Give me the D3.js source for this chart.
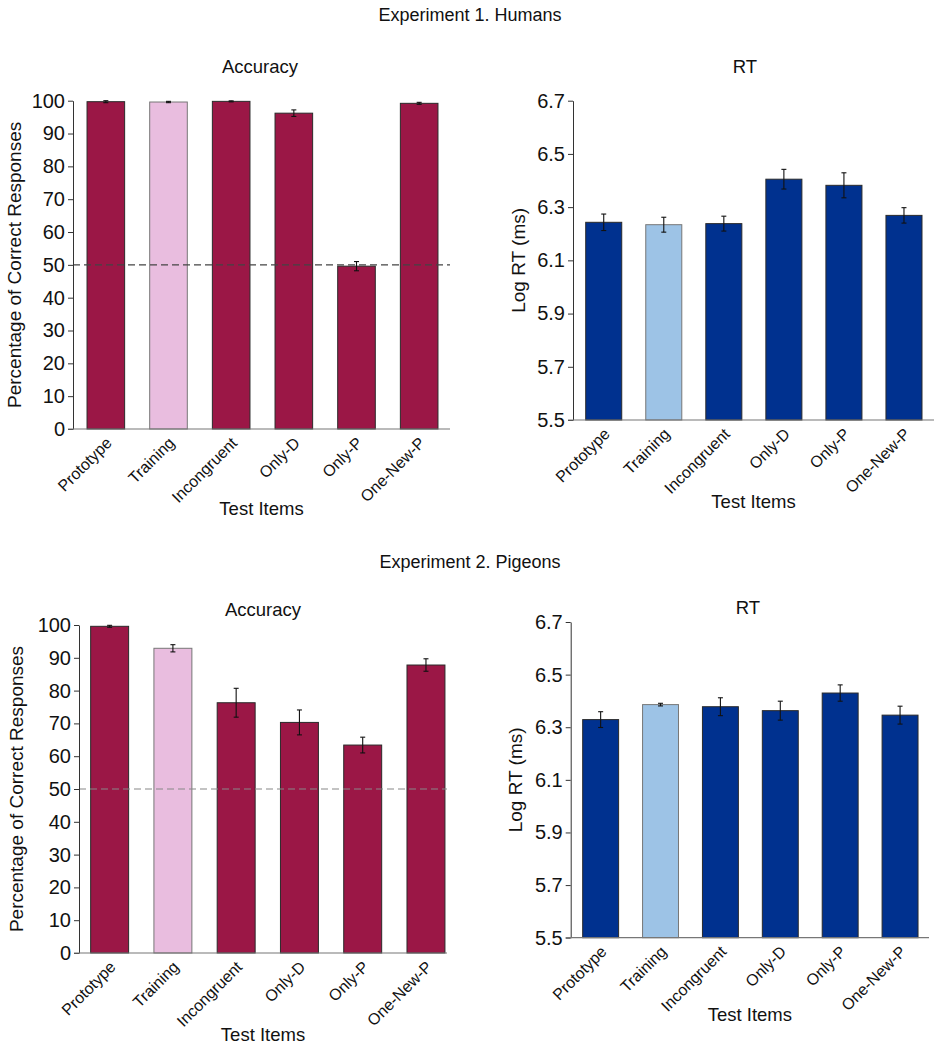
<!DOCTYPE html>
<html>
<head>
<meta charset="utf-8">
<script src="https://cdn.jsdelivr.net/npm/d3@7"></script>
<style>
  html, body { margin: 0; padding: 0; background: #fff; }
  svg { display: block; font-family: "Liberation Sans", Arial, sans-serif; }
</style>
</head>
<body>
<svg id="chart" width="939" height="1050"></svg>
<script>
// ---------------- DATA ----------------
const categories = ["Prototype", "Training", "Incongruent", "Only-D", "Only-P", "One-New-P"];
const highlighted = "Training";

const exp1AccMean = [99.7, 99.6, 99.8, 96.2, 49.6, 99.2];
const exp1AccErr  = [0.3, 0.2, 0.15, 1.0, 1.4, 0.3];
const exp1RtMean  = [6.243, 6.234, 6.238, 6.405, 6.382, 6.269];
const exp1RtErr   = [0.031, 0.028, 0.028, 0.037, 0.047, 0.029];

const exp2AccMean = [99.6, 92.9, 76.3, 70.3, 63.4, 87.8];
const exp2AccErr  = [0.3, 1.1, 4.4, 3.8, 2.4, 1.9];
const exp2RtMean  = [6.329, 6.386, 6.378, 6.363, 6.430, 6.346];
const exp2RtErr   = [0.030, 0.005, 0.034, 0.036, 0.031, 0.034];

const accTicks = [0, 10, 20, 30, 40, 50, 60, 70, 80, 90, 100];
const rtTicks  = [5.5, 5.7, 5.9, 6.1, 6.3, 6.5, 6.7];
const chanceLevel = 50;

const experimentTitles = ["Experiment 1. Humans", "Experiment 2. Pigeons"];
const panelTitles = ["Accuracy", "RT"];
const yLabels = ["Percentage of Correct Responses", "Log RT (ms)"];
const xLabel = "Test Items";

// ---------------- STYLE ----------------
const accColor = "#9B1746", accLight = "#E9BDDF";
const rtColor = "#00318F", rtLight = "#9DC3E6";

const svg = d3.select("#chart");

// experiment titles
svg.append("text").attr("x", 470).attr("y", 21).attr("text-anchor", "middle")
  .attr("font-size", 18).attr("fill", "#111").text(experimentTitles[0]);
svg.append("text").attr("x", 470).attr("y", 568).attr("text-anchor", "middle")
  .attr("font-size", 18).attr("fill", "#111").text(experimentTitles[1]);

function panel(cfg) {
  const rows = categories.map((c, i) => ({ cat: c, mean: cfg.mean[i], err: cfg.err[i] }));
  const x = d3.scaleBand().domain(categories).range(cfg.xr).paddingInner(0.4).paddingOuter(0.2);
  const y = d3.scaleLinear().domain(cfg.domain).range(cfg.yr);
  const g = svg.append("g");

  // bars
  g.selectAll("rect.bar").data(rows).enter().append("rect")
    .attr("x", d => x(d.cat))
    .attr("width", x.bandwidth())
    .attr("y", d => y(d.mean))
    .attr("height", d => y(cfg.domain[0]) - y(d.mean))
    .attr("fill", d => d.cat === highlighted ? cfg.light : cfg.color)
    .attr("stroke", d => d.cat === highlighted ? "#777" : "#2a2a2a")
    .attr("stroke-width", 1);

  // chance line
  if (cfg.chance !== undefined) {
    g.append("line")
      .attr("x1", cfg.axisX).attr("x2", cfg.xEnd)
      .attr("y1", y(cfg.chance)).attr("y2", y(cfg.chance))
      .attr("stroke", cfg.chanceColor).attr("stroke-width", 1.2)
      .attr("stroke-dasharray", "7,4");
  }

  // error bars
  const eb = g.selectAll("g.err").data(rows).enter().append("g")
    .attr("stroke", "#111").attr("stroke-width", 1.1);
  eb.append("line")
    .attr("x1", d => x(d.cat) + x.bandwidth() / 2).attr("x2", d => x(d.cat) + x.bandwidth() / 2)
    .attr("y1", d => y(d.mean - d.err)).attr("y2", d => y(d.mean + d.err));
  eb.append("line")
    .attr("x1", d => x(d.cat) + x.bandwidth() / 2 - 2.5).attr("x2", d => x(d.cat) + x.bandwidth() / 2 + 2.5)
    .attr("y1", d => y(d.mean + d.err)).attr("y2", d => y(d.mean + d.err));
  eb.append("line")
    .attr("x1", d => x(d.cat) + x.bandwidth() / 2 - 2.5).attr("x2", d => x(d.cat) + x.bandwidth() / 2 + 2.5)
    .attr("y1", d => y(d.mean - d.err)).attr("y2", d => y(d.mean - d.err));

  // y axis
  const ya = g.append("g").attr("transform", `translate(${cfg.axisX},0)`)
    .call(d3.axisLeft(y).tickValues(cfg.ticks).tickSize(5).tickPadding(3)
      .tickFormat(cfg.fmt).tickSizeOuter(0));
  ya.select(".domain").attr("stroke", "#333");
  ya.selectAll(".tick line").attr("stroke", "#333");
  ya.selectAll(".tick text").attr("font-size", 20).attr("fill", "#111")
    .attr("font-family", "Liberation Sans, Arial, sans-serif");

  // x axis line
  g.append("line").attr("x1", cfg.axisX - 5).attr("x2", cfg.xEnd)
    .attr("y1", y(cfg.domain[0])).attr("y2", y(cfg.domain[0]))
    .attr("stroke", "#777").attr("stroke-width", 1.2);

  // x tick labels
  g.selectAll("text.xl").data(categories).enter().append("text")
    .attr("transform", c => `translate(${x(c) + x.bandwidth() / 2 + 7},${y(cfg.domain[0]) + 15}) rotate(-45)`)
    .attr("text-anchor", "end").attr("font-size", 16).attr("fill", "#111")
    .text(c => c);

  // x label
  g.append("text").attr("x", (cfg.axisX + cfg.xEnd) / 2).attr("y", cfg.xLabelY)
    .attr("text-anchor", "middle").attr("font-size", 18.5).attr("fill", "#111").text(xLabel);

  // y label
  g.append("text")
    .attr("transform", `translate(${cfg.yLabelX},${(cfg.yr[0] + cfg.yr[1]) / 2}) rotate(-90)`)
    .attr("text-anchor", "middle").attr("font-size", 19).attr("fill", "#111").text(cfg.yLabel);

  // panel title
  g.append("text").attr("x", cfg.titleX).attr("y", cfg.titleY)
    .attr("text-anchor", "middle").attr("font-size", 18.5).attr("fill", "#111").text(cfg.title);
}

const fmtAcc = d3.format("d");
const fmtRt = d3.format(".1f");

panel({ mean: exp1AccMean, err: exp1AccErr, domain: [0, 100], ticks: accTicks, fmt: fmtAcc,
  xr: [74.5, 450.5], yr: [429, 100.7], axisX: 73, xEnd: 450,
  color: accColor, light: accLight, chance: chanceLevel, chanceColor: "#444",
  xLabelY: 515, yLabelX: 21, yLabel: yLabels[0], title: panelTitles[0], titleX: 260, titleY: 73 });

panel({ mean: exp1RtMean, err: exp1RtErr, domain: [5.5, 6.7], ticks: rtTicks, fmt: fmtRt,
  xr: [573.7, 934], yr: [420, 100.7], axisX: 573, xEnd: 934,
  color: rtColor, light: rtLight,
  xLabelY: 508, yLabelX: 525, yLabel: yLabels[1], title: panelTitles[1], titleX: 745, titleY: 73 });

panel({ mean: exp2AccMean, err: exp2AccErr, domain: [0, 100], ticks: accTicks, fmt: fmtAcc,
  xr: [78, 457.6], yr: [953, 625], axisX: 79, xEnd: 447,
  color: accColor, light: accLight, chance: chanceLevel, chanceColor: "#888",
  xLabelY: 1041, yLabelX: 23, yLabel: yLabels[0], title: panelTitles[0], titleX: 263, titleY: 616 });

panel({ mean: exp2RtMean, err: exp2RtErr, domain: [5.5, 6.7], ticks: rtTicks, fmt: fmtRt,
  xr: [570.7, 930], yr: [937.7, 622], axisX: 570.7, xEnd: 929,
  color: rtColor, light: rtLight,
  xLabelY: 1021, yLabelX: 522, yLabel: yLabels[1], title: panelTitles[1], titleX: 748, titleY: 614 });
</script>
</body>
</html>
